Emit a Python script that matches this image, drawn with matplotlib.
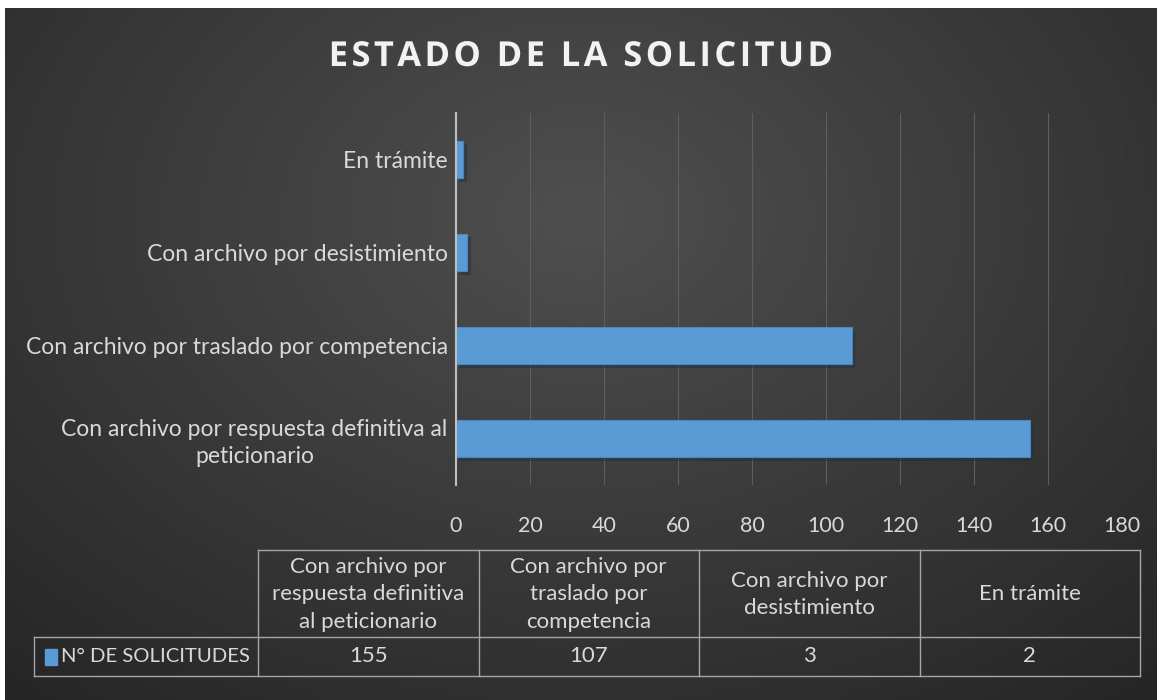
import numpy as np
import matplotlib.pyplot as plt
import matplotlib.patheffects as pe
from matplotlib.lines import Line2D
from matplotlib.patches import Rectangle

# data
categories = [
    "Con archivo por respuesta definitiva al\npeticionario",
    "Con archivo por traslado por competencia",
    "Con archivo por desistimiento",
    "En trámite",
]
table_headers = [
    "Con archivo por\nrespuesta definitiva\nal peticionario",
    "Con archivo por\ntraslado por\ncompetencia",
    "Con archivo por\ndesistimiento",
    "En trámite",
]
values = [155, 107, 3, 2]
series_name = "N° DE SOLICITUDES"
title = "ESTADO DE LA SOLICITUD"

BAR_COLOR = "#5b9bd5"
TXT = "#d9d9d9"
W, H = 1164, 700

plt.rcParams['font.family'] = ['Lato', 'DejaVu Sans']

fig = plt.figure(figsize=(W / 100, H / 100), dpi=100, facecolor="white")

# dark radial background
bg = fig.add_axes([5 / W, 0, (1157 - 5) / W, (H - 8) / H], zorder=-5)
yy, xx = np.mgrid[0:1:300j, 0:1:500j]
r = np.sqrt(((xx - 0.5) / 0.75) ** 2 + ((yy - 0.3) / 0.9) ** 2)
shade = np.clip(1 - r, 0, 1)
grad = 0.15 + 0.16 * shade
bg.imshow(np.dstack([grad, grad, grad]), aspect="auto", extent=[0, 1, 1, 0])
bg.set_axis_off()

# main chart
ax = fig.add_axes([456 / W, 1 - 485 / H, (1122 - 456) / W, (485 - 113) / H])
ax.set_facecolor("none")
ypos = np.arange(len(categories))
bars = ax.barh(ypos, values, height=0.40, color=BAR_COLOR, edgecolor="#4a86c0",
               linewidth=0.8, zorder=3)
for b in bars:
    b.set_path_effects([pe.SimplePatchShadow(offset=(2.5, -2.5), alpha=0.45),
                        pe.Normal()])
ax.set_xlim(0, 180)
ax.set_ylim(-0.5, len(categories) - 0.5)
ax.set_xticks(np.arange(0, 181, 20))
ax.set_yticks(ypos)
ax.set_yticklabels(categories, multialignment="center", linespacing=1.35)
ax.tick_params(axis="both", length=0, colors=TXT, labelsize=16.5)
ax.tick_params(axis="x", labelsize=15.5, pad=22)
ax.tick_params(axis="y", pad=6)
ax.grid(axis="x", color="#5e5e5e", linewidth=0.8, zorder=0)
ax.set_axisbelow(True)
for s in ["top", "right", "bottom"]:
    ax.spines[s].set_visible(False)
ax.spines["left"].set_color("#bfbfbf")
ax.spines["left"].set_linewidth(1.5)
ax.spines["left"].set_zorder(4)

# letter-spaced title
spaced = "\u200a".join(title)
fig.text(0.5, 1 - 57 / H, spaced, ha="center", va="center", fontsize=24.8,
         fontweight="bold", color="#f2f2f2", family=["Open Sans", "DejaVu Sans"],
         path_effects=[pe.withSimplePatchShadow(offset=(1.5, -1.5), alpha=0.6)])

# data table below the chart
tab = fig.add_axes([0, 0, 1, 1], zorder=1)
tab.set_xlim(0, W)
tab.set_ylim(H, 0)
tab.set_axis_off()
x_label, x0, col_w = 34, 258, 220.5
y_top, y_mid, y_bot = 550, 637, 676
lc = "#a6a6a6"
n = len(values)
x_end = x0 + n * col_w
tab.add_line(Line2D([x0, x_end], [y_top, y_top], color=lc, lw=1))
tab.add_line(Line2D([x_label, x_end], [y_mid, y_mid], color=lc, lw=1))
tab.add_line(Line2D([x_label, x_end], [y_bot, y_bot], color=lc, lw=1))
tab.add_line(Line2D([x_label, x_label], [y_mid, y_bot], color=lc, lw=1))
for i in range(n + 1):
    xc = x0 + i * col_w
    tab.add_line(Line2D([xc, xc], [y_top, y_bot], color=lc, lw=1))
for i, (hdr, v) in enumerate(zip(table_headers, values)):
    xc = x0 + (i + 0.5) * col_w
    tab.text(xc, (y_top + y_mid) / 2 + 1, hdr, ha="center", va="center",
             fontsize=16, color=TXT, linespacing=1.45)
    tab.text(xc, (y_mid + y_bot) / 2, str(v), ha="center", va="center",
             fontsize=16, color=TXT)
tab.add_patch(Rectangle((45, 649), 12, 16, color=BAR_COLOR))
tab.text(61, (y_mid + y_bot) / 2, series_name, ha="left", va="center",
         fontsize=14.6, color=TXT)

fig.savefig("out.png", dpi=100, facecolor="white")
